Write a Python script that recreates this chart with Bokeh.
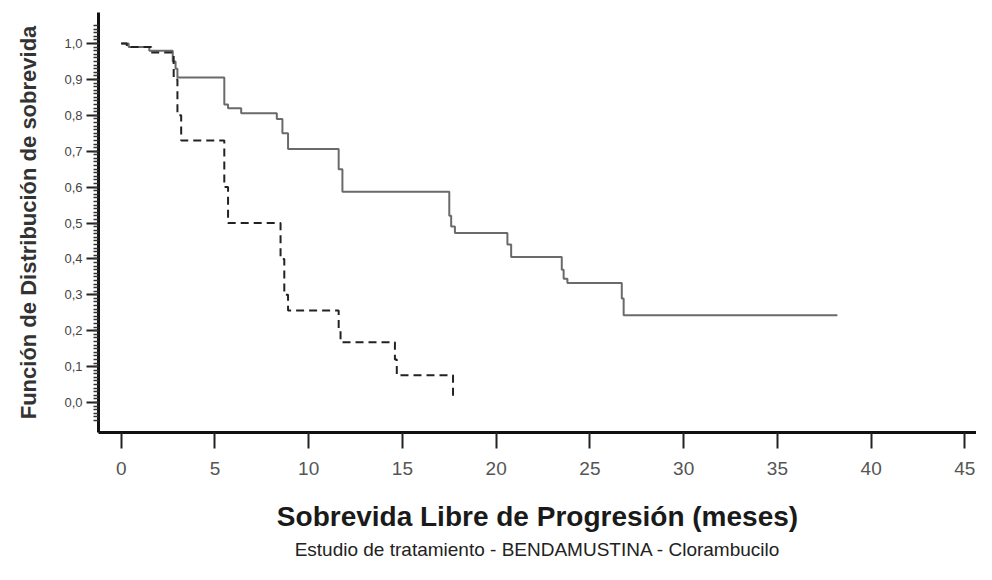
from bokeh.plotting import figure
from bokeh.models import FixedTicker, Range1d, Title, CustomJSTickFormatter
from bokeh.embed import file_html
from bokeh.resources import INLINE

# ---- data ----
benda_t = [0, 0.4, 1.5, 2.75, 2.9, 3.0, 5.5, 5.7, 6.4, 8.3, 8.6, 8.9, 11.6, 11.8,
           17.5, 17.6, 17.8, 20.6, 20.8, 23.5, 23.6, 23.8, 26.7, 26.8]
benda_s = [1.0, 0.99, 0.98, 0.95, 0.93, 0.905, 0.83, 0.82, 0.806, 0.79, 0.75, 0.706, 0.65, 0.587,
           0.52, 0.49, 0.472, 0.44, 0.405, 0.37, 0.345, 0.333, 0.29, 0.243]
benda_last = 38.2

clor_t = [0, 0.3, 1.6, 2.8, 3.0, 3.2, 5.5, 5.7, 8.5, 8.7, 8.9, 11.6, 11.7, 14.6, 14.7, 17.7]
clor_s = [1.0, 0.99, 0.975, 0.9, 0.8, 0.73, 0.6, 0.5, 0.4, 0.3, 0.256, 0.2, 0.168, 0.12, 0.076, 0.005]

x_ticks = [0, 5, 10, 15, 20, 25, 30, 35, 40, 45]
y_ticks = [0.0, 0.1, 0.2, 0.3, 0.4, 0.5, 0.6, 0.7, 0.8, 0.9, 1.0]

y_label = "Función de Distribución de sobrevida"
x_label = "Sobrevida Libre de Progresión (meses)"
caption = "Estudio de tratamiento - BENDAMUSTINA - Clorambucilo"


def steps(ts, ss, last=None):
    xs, ys = [ts[0]], [ss[0]]
    for i in range(1, len(ts)):
        xs += [ts[i], ts[i]]
        ys += [ss[i - 1], ss[i]]
    if last is not None:
        xs.append(last)
        ys.append(ss[-1])
    return xs, ys


bx, by = steps(benda_t, benda_s, benda_last)
cx, cy = steps(clor_t, clor_s)

FONT = "Liberation Sans"

p = figure(width=976, height=564, output_backend="svg", toolbar_location=None,
           x_range=Range1d(-1.21, 45.62), y_range=Range1d(-0.0836, 1.0864),
           min_border_left=98, min_border_right=0, min_border_top=12, min_border_bottom=132,
           background_fill_color="white", border_fill_color="white")
p.outline_line_color = None
p.grid.visible = False

p.line(bx, by, line_color="#6a6a6a", line_width=2)
p.line(cx, cy, line_color="#222222", line_width=2, line_dash="8 5")

# x axis
xa = p.xaxis[0]
xa.ticker = FixedTicker(ticks=x_ticks)
xa.axis_line_width = 3
xa.axis_line_color = "#111111"
xa.major_tick_out = 16
xa.major_tick_in = 0
xa.major_tick_line_width = 2
xa.major_tick_line_color = "#222222"
xa.minor_tick_line_color = None
xa.major_label_text_font = FONT
xa.major_label_text_font_size = "19px"
xa.major_label_text_color = "#555555"
xa.major_label_standoff = 13
xa.axis_label = x_label
xa.axis_label_text_font = FONT
xa.axis_label_text_font_style = "bold"
xa.axis_label_text_font_size = "28px"
xa.axis_label_text_color = "#1a1a1a"
xa.axis_label_standoff = 23

# y axis
ya = p.yaxis[0]
ya.ticker = FixedTicker(ticks=y_ticks, minor_ticks=[round(-0.05 + 0.01 * i, 2) for i in range(111)])
ya.formatter = CustomJSTickFormatter(code="return tick.toFixed(1).replace('.', ',');")
ya.axis_line_width = 3
ya.axis_line_color = "#111111"
ya.major_tick_out = 12
ya.major_tick_in = 0
ya.major_tick_line_width = 2
ya.major_tick_line_color = "#222222"
ya.minor_tick_out = 5
ya.minor_tick_in = 0
ya.minor_tick_line_width = 1.5
ya.minor_tick_line_color = "#333333"
ya.major_label_text_font = FONT
ya.major_label_text_font_size = "13px"
ya.major_label_text_color = "#444444"
ya.major_label_standoff = 4
ya.axis_label = y_label
ya.axis_label_text_font = FONT
ya.axis_label_text_font_style = "bold"
ya.axis_label_text_font_size = "22px"
ya.axis_label_text_color = "#333333"
ya.axis_label_standoff = 20

p.add_layout(Title(text=caption, align="center", text_font=FONT,
                   text_font_size="19px", text_font_style="normal", text_color="#222222",
                   standoff=5), "below")

open("out.html", "w").write(file_html(p, INLINE))
